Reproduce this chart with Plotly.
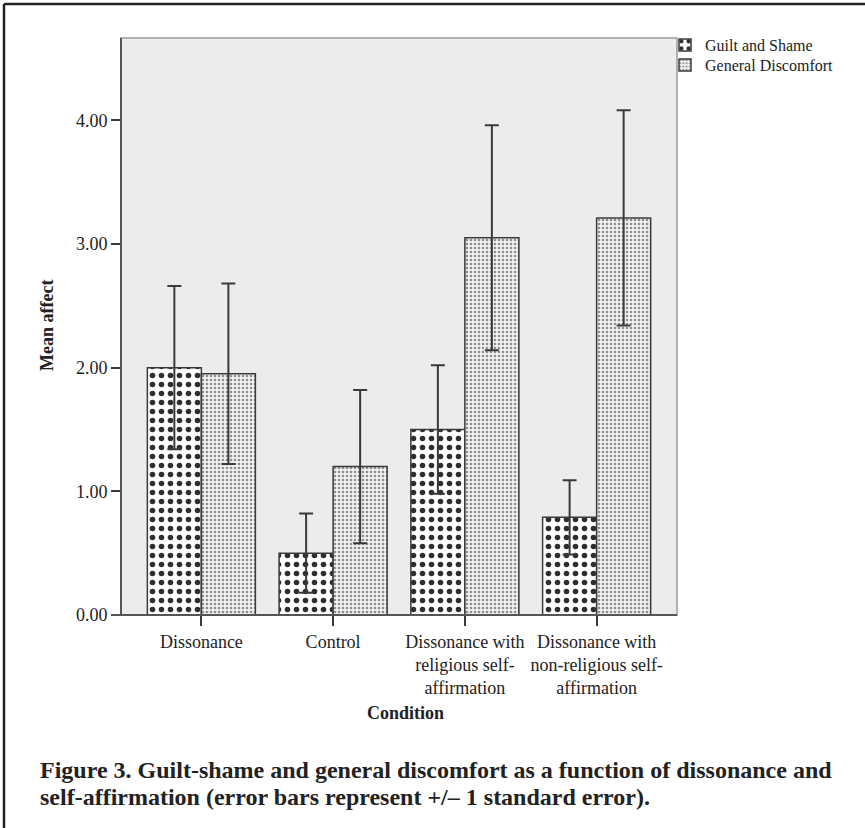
import plotly.graph_objects as go

categories = [
    "Dissonance",
    "Control",
    "Dissonance with<br>religious self-<br>affirmation",
    "Dissonance with<br>non-religious self-<br>affirmation",
]
guilt_mean = [2.00, 0.50, 1.50, 0.79]
guilt_se = [0.66, 0.32, 0.52, 0.30]
discomfort_mean = [1.95, 1.20, 3.05, 3.21]
discomfort_se = [0.73, 0.62, 0.91, 0.87]
y_ticks = [0, 1, 2, 3, 4]
y_ticklabels = ["0.00", "1.00", "2.00", "3.00", "4.00"]
caption_lines = [
    "Figure 3. Guilt-shame and general discomfort as a function of dissonance and",
    "self-affirmation (error bars represent +/– 1 standard error).",
]

SERIF = "Liberation Serif, Times New Roman, serif"
DARK = "#3a3a3a"
TXT = "#222222"

W, H = 865, 828
PL, PR, PT, PB = 121, 677, 38, 615  # plot area in page pixels
L, T, R, B = PL, PT, W - PR, H - PB
pw, ph = PR - PL, PB - PT


def px_x(x):
    return (x - PL) / pw


def px_y(y):
    return 1 - (y - PT) / ph


fig = go.Figure()
fig.add_trace(go.Bar(
    name="Guilt and Shame", x=categories, y=guilt_mean, legend="legend",
    marker=dict(color="white", line=dict(color=DARK, width=1.5),
                pattern=dict(shape=".", fgcolor="#2e2e2e", bgcolor="white",
                             size=9, solidity=0.3, fillmode="replace")),
    error_y=dict(type="data", array=guilt_se, visible=True, color=DARK,
                 thickness=2, width=7),
))
fig.add_trace(go.Bar(
    name="General Discomfort", x=categories, y=discomfort_mean, legend="legend2",
    marker=dict(color="white", line=dict(color=DARK, width=1.5),
                pattern=dict(shape=".", fgcolor="#8f8f8f", bgcolor="#f2f2f2",
                             size=4, solidity=0.35, fillmode="replace")),
    error_y=dict(type="data", array=discomfort_se, visible=True, color=DARK,
                 thickness=2, width=7),
))

legend_common = dict(xanchor="left", yanchor="middle", bgcolor="rgba(0,0,0,0)",
                     font=dict(family=SERIF, size=16, color=TXT),
                     itemwidth=30, borderwidth=0)

fig.update_layout(
    width=W, height=H,
    margin=dict(l=L, r=R, t=T, b=B, pad=0, autoexpand=False),
    paper_bgcolor="white",
    plot_bgcolor="#ebecec",
    barmode="group", bargap=0.18, bargroupgap=0,
    font=dict(family=SERIF, color=TXT, size=18),
    showlegend=True,
    legend=dict(x=px_x(665), y=px_y(45), **legend_common),
    legend2=dict(x=px_x(665), y=px_y(65), **legend_common),
    xaxis=dict(
        range=[-0.61, 3.61], showgrid=False, zeroline=False,
        showline=False,
        ticks="outside", ticklen=10, tickwidth=2, tickcolor=DARK,
        tickfont=dict(family=SERIF, size=18, color=TXT),
    ),
    yaxis=dict(
        range=[0, 4.665], showgrid=False, zeroline=False,
        showline=False,
        tickvals=y_ticks, ticktext=y_ticklabels,
        ticks="outside", ticklen=9, tickwidth=2, tickcolor=DARK,
        tickfont=dict(family=SERIF, size=18, color=TXT),
    ),
)

# plot-area border and dark axis lines
fig.add_shape(type="rect", xref="paper", yref="paper", x0=0, x1=1, y0=0, y1=1,
              line=dict(color="#9a9a9a", width=1.5), layer="above")
fig.add_shape(type="line", xref="paper", yref="paper", x0=px_x(111), x1=1, y0=0, y1=0,
              line=dict(color="#555555", width=2), layer="above")
fig.add_shape(type="line", xref="paper", yref="paper", x0=0, x1=0, y0=0, y1=1,
              line=dict(color="#555555", width=2), layer="above")

# outer frame (left and top edges visible)
fig.add_shape(type="line", xref="paper", yref="paper", x0=px_x(4), x1=px_x(4),
              y0=px_y(840), y1=px_y(4), line=dict(color=TXT, width=2.5))
fig.add_shape(type="line", xref="paper", yref="paper", x0=px_x(4), x1=px_x(880),
              y0=px_y(4), y1=px_y(4), line=dict(color=TXT, width=2.5))

# axis titles
fig.add_annotation(xref="paper", yref="paper", x=px_x(405), y=px_y(713),
                   xanchor="center", yanchor="middle", showarrow=False,
                   text="<b>Condition</b>", font=dict(family=SERIF, size=18, color=TXT))
fig.add_annotation(xref="paper", yref="paper", x=px_x(47), y=px_y(326),
                   xanchor="center", yanchor="middle", showarrow=False, textangle=-90,
                   text="<b>Mean affect</b>", font=dict(family=SERIF, size=18, color=TXT))

for i, line in enumerate(caption_lines):
    fig.add_annotation(
        xref="paper", yref="paper", x=px_x(38), y=px_y(770 + 27 * i),
        xanchor="left", yanchor="middle", align="left", showarrow=False,
        text="<b>" + line + "</b>",
        font=dict(family=SERIF, size=24, color=TXT),
    )

fig.write_html(
    "out.html",
    config={"displayModeBar": False},
    post_script="document.body.style.margin='0';document.body.style.padding='0';",
)
